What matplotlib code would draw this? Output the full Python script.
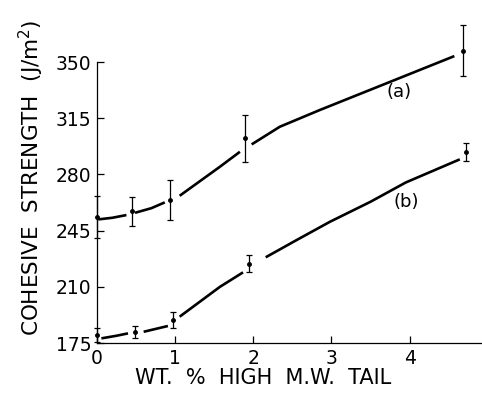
import matplotlib
matplotlib.use('Agg')
import numpy as np
import matplotlib.pyplot as plt

# measured points (wt % tail, cohesive strength, error)
A_X = [0.0, 0.45, 0.94, 1.89, 4.68]
A_Y = [253.5, 257.0, 264.0, 302.5, 357.0]
A_ERR = [13.0, 9.0, 12.5, 14.5, 16.0]

B_X = [0.0, 0.49, 0.98, 1.95, 4.72]
B_Y = [180.0, 182.0, 189.5, 224.5, 294.0]
B_ERR = [4.5, 3.7, 5.0, 5.4, 5.5]

# hand drawn fit curves, broken where they pass the points
A_CURVE = [
    [(0.02, 252.0), (0.2, 253.0), (0.38, 254.7)],
    [(0.49, 256.1), (0.7, 259.0), (0.87, 262.6)],
    [(1.06, 266.7), (1.575, 284.8), (1.83, 294.1)],
    [(1.98, 298.7), (2.34, 309.7), (2.85, 320.1), (3.7, 336.7), (4.57, 353.7)],
]
B_CURVE = [
    [(0.06, 177.9), (0.25, 179.5), (0.40, 181.0)],
    [(0.60, 182.0), (0.91, 185.6)],
    [(1.06, 191.4), (1.575, 210.0), (1.87, 219.0)],
    [(2.16, 228.4), (2.55, 239.0), (2.98, 250.5), (3.5, 263.0), (3.95, 275.0), (4.64, 289.4)],
]

Y_TICKS = [175, 210, 245, 280, 315, 350]
X_TICKS = [0, 1, 2, 3, 4, 5]


def drawSeries(ax, xs, ys, errs, curve):
    ax.errorbar(xs, ys, yerr=errs, fmt='o', color='black', ms=2.5,
                elinewidth=0.9, capsize=2.2, capthick=0.9, clip_on=False)
    for seg in curve:
        sx = [p[0] for p in seg]
        sy = [p[1] for p in seg]
        ax.plot(sx, sy, color='black', lw=1.9, solid_capstyle='butt', clip_on=False)


fig = plt.figure(figsize=(4.82, 3.94), dpi=100)
ax = fig.add_axes([0.2006, 0.1294, 0.8118, 0.815])

drawSeries(ax, A_X, A_Y, A_ERR, A_CURVE)
drawSeries(ax, B_X, B_Y, B_ERR, B_CURVE)

ax.text(3.86, 331.5, '(a)', fontsize=13, ha='center', va='center')
ax.text(3.95, 263.0, '(b)', fontsize=13, ha='center', va='center')

ax.set_xlim(0, 5)
ax.set_ylim(175, 375)
ax.set_xticks(X_TICKS)
ax.set_yticks(Y_TICKS)
ax.tick_params(direction='in', length=5, width=0.9, labelsize=13.5, pad=4)
ax.spines['top'].set_visible(False)
ax.spines['right'].set_visible(False)
ax.spines['left'].set_bounds(175, 350)
for s in ['left', 'bottom']:
    ax.spines[s].set_linewidth(0.9)

fig.text(31 / 482, 1 - 178 / 394, 'COHESIVE  STRENGTH  (J/m$^2$)', rotation=90,
         fontsize=15.5, ha='center', va='center')
fig.text(263 / 482, 1 - 378.5 / 394, 'WT.  %  HIGH  M.W.  TAIL',
         fontsize=15, ha='center', va='center')

fig.savefig('out.png', dpi=100)
plt.close(fig)
